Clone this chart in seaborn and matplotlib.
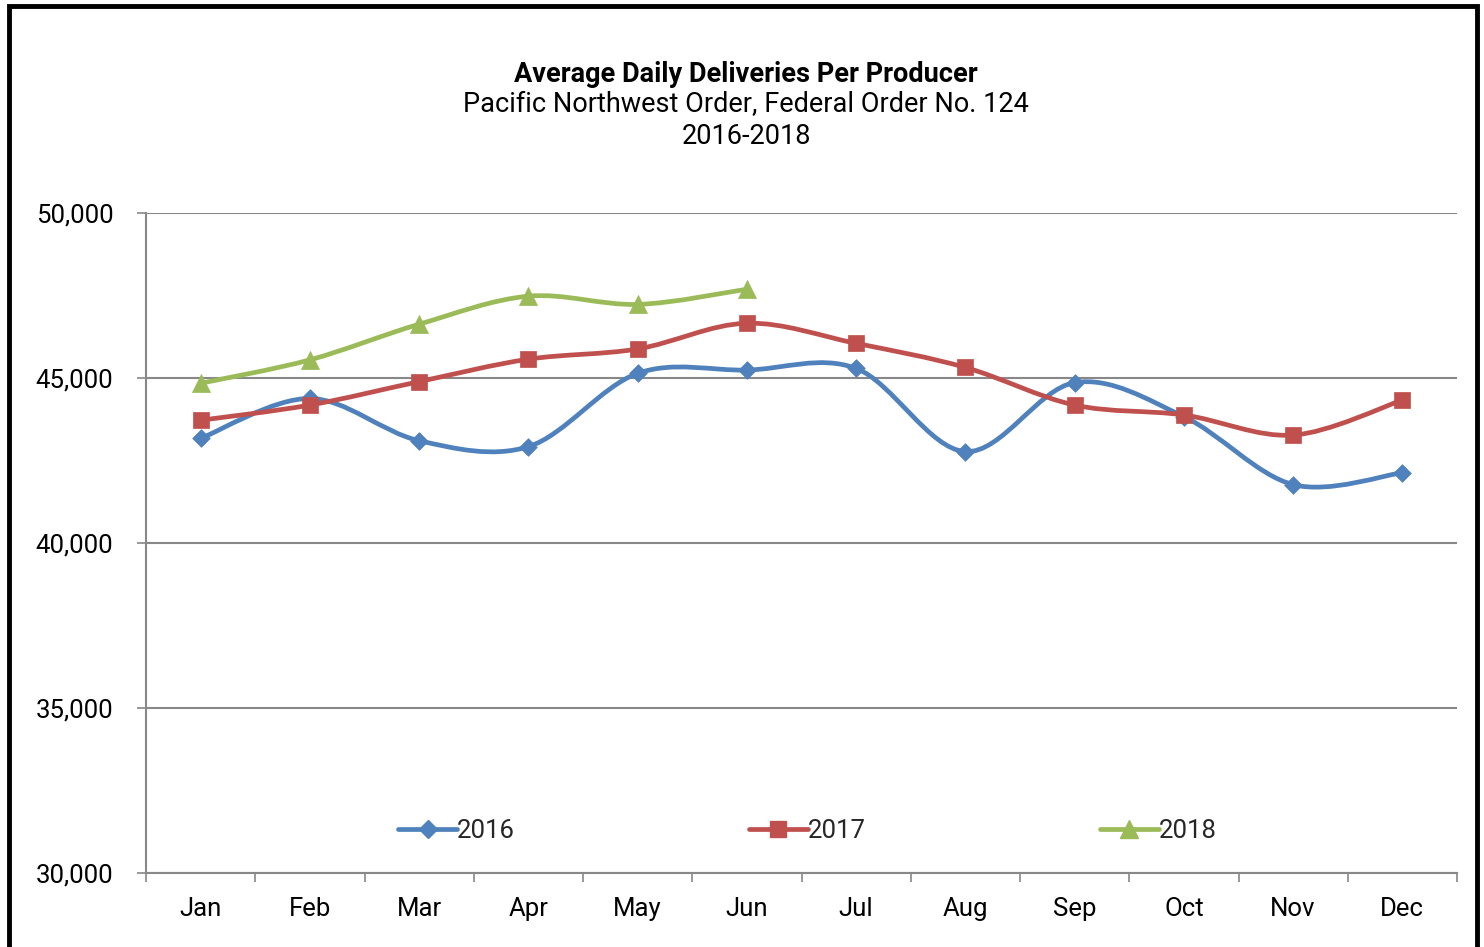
import numpy as np
import pandas as pd
import matplotlib
matplotlib.use("Agg")
import matplotlib.pyplot as plt
import seaborn as sns
from matplotlib.path import Path
from matplotlib.patches import PathPatch, Rectangle
from matplotlib.lines import Line2D
from matplotlib.ticker import FuncFormatter, FixedLocator

months = ["Jan", "Feb", "Mar", "Apr", "May", "Jun", "Jul", "Aug", "Sep", "Oct", "Nov", "Dec"]
y2016 = [43170, 44380, 43100, 42920, 45140, 45240, 45290, 42770, 44860, 43830, 41770, 42130]
y2017 = [43720, 44180, 44890, 45570, 45880, 46660, 46050, 45320, 44180, 43880, 43270, 44330]
y2018 = [44840, 45550, 46630, 47480, 47230, 47690]
years = ["2016", "2017", "2018"]
series = [y2016, y2017, y2018]
yticks = [30000, 35000, 40000, 45000, 50000]

title_lines = ["Average Daily Deliveries Per Producer",
               "Pacific Northwest Order, Federal Order No. 124",
               "2016-2018"]

colors = ["#4F81BD", "#C0504D", "#9BBB59"]
markers = ["D", "s", "^"]
msizes = [9, 12, 13]

sns.set_theme(style="white")
FONT = "Roboto"
plt.rcParams["font.family"] = [FONT, "DejaVu Sans"]

fig = plt.figure(figsize=(14.84, 9.47), dpi=100)
ax = fig.add_axes([146 / 1484, 1 - 873 / 947, (1457 - 146) / 1484, (873 - 213) / 947])


def smooth_path(xs, ys):
    pts = np.column_stack([xs, ys]).astype(float)
    n = len(pts)
    verts = [pts[0]]
    codes = [Path.MOVETO]
    for i in range(n - 1):
        p0 = pts[i - 1] if i > 0 else pts[i]
        p1 = pts[i]
        p2 = pts[i + 1]
        p3 = pts[i + 2] if i + 2 < n else pts[i + 1]
        c1 = p1 + (p2 - p0) / 6.0
        c2 = p2 - (p3 - p1) / 6.0
        verts += [c1, c2, p2]
        codes += [Path.CURVE4] * 3
    return Path(verts, codes)


frames = []
for yr, vals in zip(years, series):
    frames.append(pd.DataFrame({"month": months[:len(vals)], "x": np.arange(len(vals)),
                                "value": vals, "year": yr}))
df = pd.concat(frames, ignore_index=True)

for yr, col, mk, ms in zip(years, colors, markers, msizes):
    sub = df[df["year"] == yr]
    patch = PathPatch(smooth_path(sub["x"].values, sub["value"].values), facecolor="none",
                      edgecolor=col, linewidth=3.4, capstyle="round", joinstyle="round", zorder=3)
    ax.add_patch(patch)
    sns.scatterplot(data=sub, x="x", y="value", marker=mk, s=ms ** 2, color=col,
                    edgecolor=col, linewidth=0.5, ax=ax, zorder=4, legend=False)

ax.set_xlim(-0.5, 11.5)
ax.set_ylim(30000, 50000)
ax.set_xlabel("")
ax.set_ylabel("")

ax.yaxis.set_major_locator(FixedLocator(yticks))
ax.yaxis.set_major_formatter(FuncFormatter(lambda v, p: f"{int(v):,}"))
ax.set_xticks(np.arange(12))
ax.set_xticklabels(months)
ax.set_xticks(np.arange(-0.5, 12, 1), minor=True)

ax.grid(axis="y", color="#888888", linewidth=1.5)
ax.set_axisbelow(True)
for s in ["top", "right"]:
    ax.spines[s].set_visible(False)
for s in ["left", "bottom"]:
    ax.spines[s].set_color("#888888")
    ax.spines[s].set_linewidth(1.5)

ax.tick_params(axis="y", which="major", direction="out", length=6.5, width=1.2, color="#888888",
               pad=17, labelsize=18.5, labelcolor="black", left=True)
ax.tick_params(axis="x", which="major", length=0, pad=17, labelsize=18.5, labelcolor="black")
ax.tick_params(axis="x", which="minor", direction="out", length=6.5, width=1.2, color="#888888", bottom=True)

# title
ys = [74, 105, 136]
for i, (t, y) in enumerate(zip(title_lines, ys)):
    fig.text(746 / 1484, 1 - y / 947, t, ha="center", va="center", fontsize=19.5,
             fontweight="bold" if i == 0 else "normal", color="black")

handles = [Line2D([0], [0], color=c, marker=m, markersize=ms, linewidth=3.4, markeredgecolor=c)
           for c, m, ms in zip(colors, markers, msizes)]
fig.legend(handles, years, loc="center left", bbox_to_anchor=(398 / 1484, 1 - 831 / 947),
           bbox_transform=fig.transFigure, ncol=3, frameon=False, fontsize=18.5,
           handlelength=2.3, handletextpad=0.0, columnspacing=9.1, borderpad=0, borderaxespad=0)

fig.patches.append(Rectangle((9 / 1484, -0.02), (1477 - 9) / 1484, 1.02 - 6 / 947,
                             transform=fig.transFigure, fill=False, edgecolor="black",
                             linewidth=3.5, figure=fig))

fig.savefig("out.png", dpi=100)
